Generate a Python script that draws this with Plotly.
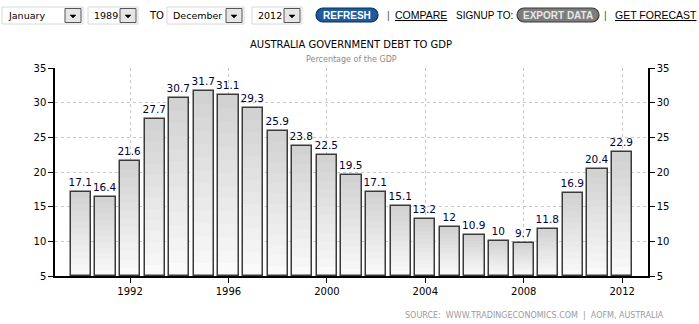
import plotly.graph_objects as go

years = list(range(1990, 2013))
values = [17.1, 16.4, 21.6, 27.7, 30.7, 31.7, 31.1, 29.3, 25.9, 23.8, 22.5, 19.5,
          17.1, 15.1, 13.2, 12, 10.9, 10, 9.7, 11.8, 16.9, 20.4, 22.9]
labels = ["17.1", "16.4", "21.6", "27.7", "30.7", "31.7", "31.1", "29.3", "25.9", "23.8",
          "22.5", "19.5", "17.1", "15.1", "13.2", "12", "10.9", "10", "9.7", "11.8",
          "16.9", "20.4", "22.9"]
x_ticks = [1992, 1996, 2000, 2004, 2008, 2012]
y_ticks = [5, 10, 15, 20, 25, 30, 35]
BASE = 5

W, H = 699, 324
L, R, T, B = 55, 648, 68, 276


def X(px):
    return (px - L) / (R - L)


def Y(py):
    return (B - py) / (B - T)


fig = go.Figure()

# gradient bars: layered overlays from dark (top) to light (bottom)
N = 14
c0, c1 = 0xD2, 0xFA
for k in range(N):
    f = 1 - k / N
    c = int(c0 + (c1 - c0) * k / (N - 1))
    fig.add_trace(go.Bar(
        x=years, y=[(v - BASE) * f for v in values], base=BASE,
        width=0.82, marker=dict(color=f"rgb({c},{c},{c})", line=dict(width=0)),
        hoverinfo="skip", showlegend=False))

fig.add_trace(go.Bar(
    x=years, y=[v - BASE for v in values], base=BASE, width=0.82,
    marker=dict(color="rgba(0,0,0,0)", line=dict(color="#3a3a3a", width=1.5)),
    text=labels, textposition="outside", cliponaxis=False, constraintext="none",
    textfont=dict(family="DejaVu Sans", size=10.5, color="#000033"),
    hovertemplate="%{x}: %{text}<extra></extra>", showlegend=False))

# invisible trace for right axis
fig.add_trace(go.Scatter(x=[years[0]], y=[values[0]], yaxis="y2", mode="markers",
                         marker=dict(opacity=0), hoverinfo="skip", showlegend=False))

axis_font = dict(family="DejaVu Sans", size=10, color="#000000")
fig.update_layout(
    width=W, height=H, margin=dict(l=L, r=W - R, t=T, b=H - B),
    paper_bgcolor="white", plot_bgcolor="white", barmode="overlay", bargap=0,
    xaxis=dict(range=[1988.95, 2013.05], tickvals=x_ticks, ticktext=[str(t) for t in x_ticks],
               showgrid=True, gridcolor="#c8c8c8", griddash="dot", gridwidth=1,
               showline=True, linecolor="#000000", linewidth=1.5,
               ticks="outside", ticklen=5, tickcolor="#000000", tickfont=axis_font,
               zeroline=False, fixedrange=True),
    yaxis=dict(range=[5, 35], tickvals=y_ticks, showgrid=True, gridcolor="#c8c8c8",
               griddash="dot", gridwidth=1, showline=True, linecolor="#000000", linewidth=1.5,
               ticks="outside", ticklen=5, tickcolor="#000000", tickfont=axis_font,
               zeroline=False, fixedrange=True),
    yaxis2=dict(range=[5, 35], tickvals=y_ticks, overlaying="y", side="right",
                showgrid=False, showline=True, linecolor="#000000", linewidth=1.5,
                ticks="outside", ticklen=5, tickcolor="#000000", tickfont=axis_font,
                zeroline=False, fixedrange=True),
)

annotations = []
shapes = []


def text(px, py, s, size=11, color="#000000", family="DejaVu Sans", anchor="left", bold=False):
    if bold:
        s = f"<b>{s}</b>"
    annotations.append(dict(x=X(px), y=Y(py), xref="paper", yref="paper", text=s,
                            showarrow=False, xanchor=anchor, yanchor="middle",
                            font=dict(family=family, size=size, color=color)))


def rect(x0, y0, x1, y1, fill, line, lw=1):
    shapes.append(dict(type="rect", xref="paper", yref="paper", x0=X(x0), x1=X(x1),
                       y0=Y(y1), y1=Y(y0), fillcolor=fill, line=dict(color=line, width=lw)))


def pill(x0, y0, x1, y1, fill, line):
    r = (y1 - y0) / 2
    pts = [f"M{X(x0 + r)},{Y(y0)}", f"L{X(x1 - r)},{Y(y0)}",
           f"C{X(x1 - r + r * 0.55)},{Y(y0)} {X(x1)},{Y(y0 + r - r * 0.55)} {X(x1)},{Y(y0 + r)}",
           f"C{X(x1)},{Y(y1 - r + r * 0.55)} {X(x1 - r + r * 0.55)},{Y(y1)} {X(x1 - r)},{Y(y1)}",
           f"L{X(x0 + r)},{Y(y1)}",
           f"C{X(x0 + r - r * 0.55)},{Y(y1)} {X(x0)},{Y(y1 - r + r * 0.55)} {X(x0)},{Y(y1 - r)}",
           f"C{X(x0)},{Y(y0 + r - r * 0.55)} {X(x0 + r - r * 0.55)},{Y(y0)} {X(x0 + r)},{Y(y0)}", "Z"]
    shapes.append(dict(type="path", xref="paper", yref="paper", path=" ".join(pts),
                       fillcolor=fill, line=dict(color=line, width=1.2)))


def dropdown(x0, x1, label):
    rect(x0, 7, x1, 24, "#ffffff", "#d8d8d8")
    bx0 = x1 - 18
    rect(bx0, 8.5, x1 - 2, 22.5, "#e6e6e6", "#555555")
    cx = (bx0 + x1 - 2) / 2
    shapes.append(dict(type="path", xref="paper", yref="paper",
                       path=f"M{X(cx - 3)},{Y(15)} L{X(cx + 3)},{Y(15)} L{X(cx)},{Y(18)} Z",
                       fillcolor="#000000", line=dict(color="#000000", width=0.5)))
    text(x0 + 4, 15.5, label, size=9.5)


dropdown(2, 83, "January")
dropdown(88, 138, "1989")
text(147, 15.5, "TO", size=10)
dropdown(167, 244, "December")
dropdown(252, 302, "2012")
pill(316, 8, 378, 22, "#1d5c9c", "#0b2f57")
text(347, 15, "REFRESH", size=10, color="#ffffff", family="Liberation Sans", anchor="center", bold=True)
text(385, 15.5, "|", size=10.5, color="#555555", family="Liberation Sans")
text(393, 15.5, "<u>COMPARE</u>", size=10.5, color="#000000", family="Liberation Sans")
text(454, 15.5, "SIGNUP TO:", size=10, color="#000000", family="Liberation Sans")
pill(517, 8, 599, 22, "#7d7d7d", "#3a3a3a")
text(558, 15, "EXPORT DATA", size=10, color="#e8e8e8", family="Liberation Sans", anchor="center", bold=True)
text(602, 15.5, "|", size=10.5, color="#555555", family="Liberation Sans")
text(613, 15.5, "<u>GET FORECAST</u>", size=10.5, color="#000000", family="Liberation Sans")

text(351, 45, "AUSTRALIA GOVERNMENT DEBT TO GDP", size=10, color="#000000", anchor="center")
text(351, 60, "Percentage of the GDP", size=8, color="#8a8a8a", anchor="center")
text(534, 315, "SOURCE:\u00a0\u00a0WWW.TRADINGECONOMICS.COM\u00a0\u00a0|\u00a0\u00a0AOFM,\u00a0AUSTRALIA",
     size=8, color="#9a9a9a", anchor="center")

fig.update_layout(annotations=annotations, shapes=shapes)
fig.write_html("out.html")
